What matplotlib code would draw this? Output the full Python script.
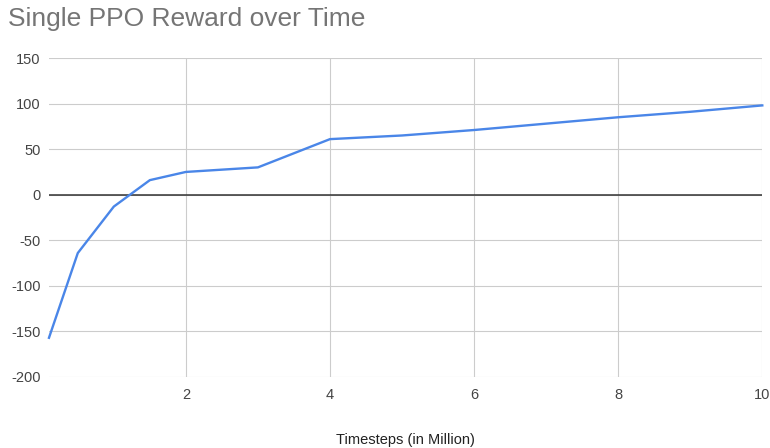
import numpy as np
import matplotlib.pyplot as plt

# reward at each checkpoint (timesteps in millions)
timesteps = [0.1, 0.5, 1, 1.5, 2, 3, 4, 5, 6, 7, 8, 9, 10]
reward = [-157, -64, -13, 16, 25, 30, 61, 65, 71, 78, 85, 91, 98]

plt.rcParams['font.family'] = ['Liberation Sans', 'DejaVu Sans']
plt.rcParams['axes.unicode_minus'] = False

fig = plt.figure(figsize=(7.7, 4.48), dpi=100)
ax = fig.add_axes([0.0636, 0.1585, 0.9264, 0.712])

ax.plot(timesteps, reward, color="#4a86e8", linewidth=1.7, zorder=3,
        clip_on=False)
ax.axhline(0, color="#333333", linewidth=1.1, zorder=2)

ax.set_xlim(0.1, 10)
ax.set_ylim(-200, 150)
ax.set_xticks([2, 4, 6, 8, 10])
ax.set_yticks(np.arange(-200, 151, 50))
ax.grid(True, color="#cccccc", linewidth=0.8)
ax.set_axisbelow(True)
for s in ax.spines.values():
    s.set_visible(False)
ax.tick_params(length=0, labelsize=10.5, labelcolor="#444444", pad=8)
ax.tick_params(axis="y", pad=6)

ax.set_xlabel("Timesteps (in Million)", fontsize=10.5, color="#222222", labelpad=22)
fig.text(0.01, 0.958, "Single PPO Reward over Time", fontsize=19, color="#757575",
         va="center", ha="left")

plt.savefig("out.png", dpi=100)
